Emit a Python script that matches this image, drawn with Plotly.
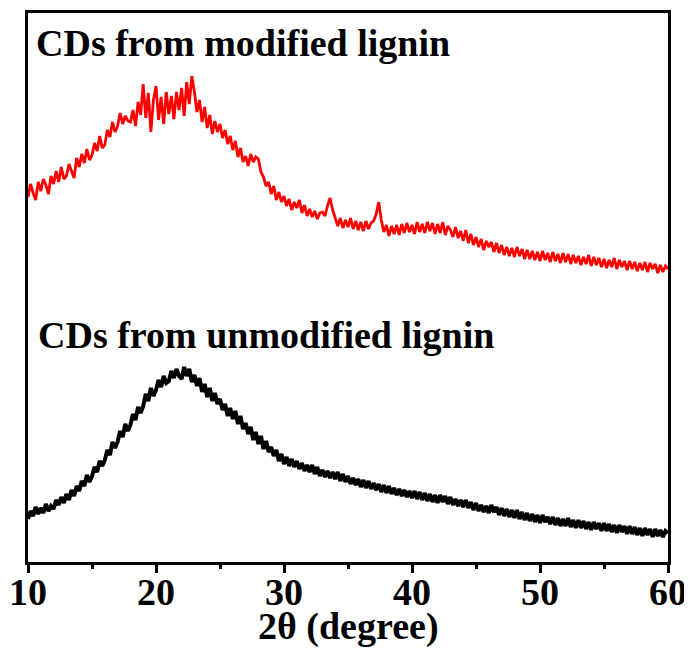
import numpy as np
import plotly.graph_objects as go

# 2theta grid (degrees), 0.2 deg step from 10 to 60
two_theta = np.round(np.arange(10, 60.0001, 0.2), 1)

# Intensity (a.u.)
modified = [
    365, 378, 369, 362, 380, 371, 383, 377, 368, 386, 378, 391, 380, 395, 383,
    386, 398, 391, 384, 404, 395, 408, 399, 413, 402, 407, 419, 411, 426, 414,
    417, 432, 425, 440, 430, 436, 449, 438, 446, 441, 440, 452, 436, 460, 447,
    478, 444, 469, 430, 462, 476, 442, 465, 438, 470, 448, 466, 443, 470, 452,
    474, 446, 480, 458, 486, 470, 450, 462, 440, 455, 434, 447, 428, 441, 430,
    438, 424, 432, 418, 426, 412, 421, 405, 414, 400, 406, 396, 408, 400, 405,
    403, 390, 385, 376, 380, 368, 376, 362, 370, 360, 366, 356, 363, 352, 360,
    354, 362, 349, 357, 346, 353, 345, 351, 343, 349, 350, 346, 356, 364, 352,
    345, 336, 344, 334, 342, 335, 344, 333, 341, 332, 340, 331, 341, 333, 339,
    341, 348, 360, 342, 330, 337, 326, 336, 328, 337, 327, 338, 329, 339, 330,
    337, 328, 340, 330, 338, 329, 340, 331, 339, 328, 338, 329, 340, 327, 336,
    332, 325, 335, 324, 331, 321, 332, 319, 328, 317, 325, 315, 323, 312, 321,
    315, 320, 310, 319, 309, 317, 307, 315, 306, 314, 305, 315, 306, 313, 303,
    312, 303, 311, 302, 310, 301, 311, 302, 309, 300, 310, 301, 308, 299, 309,
    300, 308, 298, 307, 299, 306, 297, 305, 298, 307, 296, 305, 297, 304, 295,
    303, 294, 302, 295, 304, 293, 302, 295, 301, 292, 301, 293, 300, 291, 299,
    292, 300, 290, 299, 293, 298, 289, 297, 290, 296, 293,
]
unmodified = [
    43, 51, 46, 55, 48, 54, 49, 58, 51, 56, 53, 62, 57, 65, 59,
    68, 62, 72, 66, 76, 71, 81, 76, 87, 80, 86, 95, 90, 101, 96,
    102, 112, 107, 120, 114, 120, 131, 125, 138, 131, 137, 148, 142, 155, 149,
    156, 168, 161, 174, 166, 172, 182, 175, 186, 179, 181, 191, 184, 193, 186,
    183, 195, 186, 193, 180, 187, 176, 184, 170, 178, 165, 174, 161, 169, 158,
    163, 152, 158, 146, 154, 143, 151, 138, 146, 133, 139, 128, 135, 122, 130,
    118, 126, 113, 121, 110, 115, 106, 112, 101, 108, 98, 105, 96, 103, 95,
    101, 93, 99, 91, 97, 90, 97, 88, 95, 86, 92, 85, 91, 84, 90,
    83, 90, 81, 88, 80, 86, 78, 84, 77, 83, 75, 82, 74, 81, 73,
    79, 72, 78, 70, 77, 69, 76, 68, 74, 67, 73, 66, 72, 65, 71,
    64, 71, 63, 70, 62, 69, 61, 68, 60, 67, 59, 67, 60, 66, 58,
    65, 57, 63, 56, 62, 55, 62, 54, 60, 52, 59, 51, 57, 50, 56,
    49, 57, 50, 55, 47, 54, 46, 53, 45, 52, 44, 52, 43, 50, 42,
    49, 41, 48, 40, 47, 39, 47, 40, 45, 38, 45, 37, 44, 36, 43,
    36, 44, 35, 42, 34, 42, 34, 41, 33, 40, 32, 40, 33, 39, 31,
    39, 31, 38, 30, 37, 29, 37, 30, 36, 28, 36, 28, 35, 27, 34,
    26, 34, 27, 33, 25, 33, 26, 32, 25, 31, 29,
]
labels = ["CDs from modified lignin", "CDs from unmodified lignin"]
x_title = "2θ (degree)"
x_ticks = [10, 20, 30, 40, 50, 60]

FONT = "Liberation Serif"

fig = go.Figure()
fig.add_trace(go.Scatter(x=two_theta, y=modified, mode="lines",
                         line=dict(color="#ff0000", width=2.8), showlegend=False))
fig.add_trace(go.Scatter(x=two_theta, y=unmodified, mode="lines",
                         line=dict(color="#000000", width=4), showlegend=False))

fig.add_annotation(x=10.47, y=519, xref="x", yref="y", text=labels[0], showarrow=False,
                   xanchor="left", yanchor="middle",
                   font=dict(family=FONT, size=38, color="black", weight="bold"))
fig.add_annotation(x=10.62, y=227, xref="x", yref="y", text=labels[1], showarrow=False,
                   xanchor="left", yanchor="middle",
                   font=dict(family=FONT, size=38, color="black", weight="bold"))
fig.add_annotation(x=0.5, y=-0.1166, xref="paper", yref="paper", text=x_title,
                   showarrow=False, xanchor="center", yanchor="middle",
                   font=dict(family=FONT, size=38, color="black", weight="bold"))

# the page body has an 8px margin, so the figure is 684x640 placed at (8, 8)
fig.update_layout(
    width=684, height=640,
    margin=dict(l=20, r=24, t=5, b=86, autoexpand=False),
    paper_bgcolor="white", plot_bgcolor="white",
)
fig.update_xaxes(
    range=[10, 60], tickvals=x_ticks, ticktext=[str(v) for v in x_ticks],
    automargin=False,
    showline=True, linecolor="black", linewidth=3, mirror=True,
    ticks="outside", ticklen=8, tickwidth=2.5, tickcolor="black",
    minor=dict(ticks="outside", dtick=5, ticklen=4, tickwidth=2.5, tickcolor="black"),
    showgrid=False, zeroline=False,
    ticklabelstandoff=-14,
    tickfont=dict(family=FONT, size=38, color="black", weight="bold"),
)
fig.update_yaxes(
    range=[0, 549], showticklabels=False, ticks="", automargin=False,
    showline=True, linecolor="black", linewidth=3, mirror=True,
    showgrid=False, zeroline=False,
)

fig.write_html("out.html")
